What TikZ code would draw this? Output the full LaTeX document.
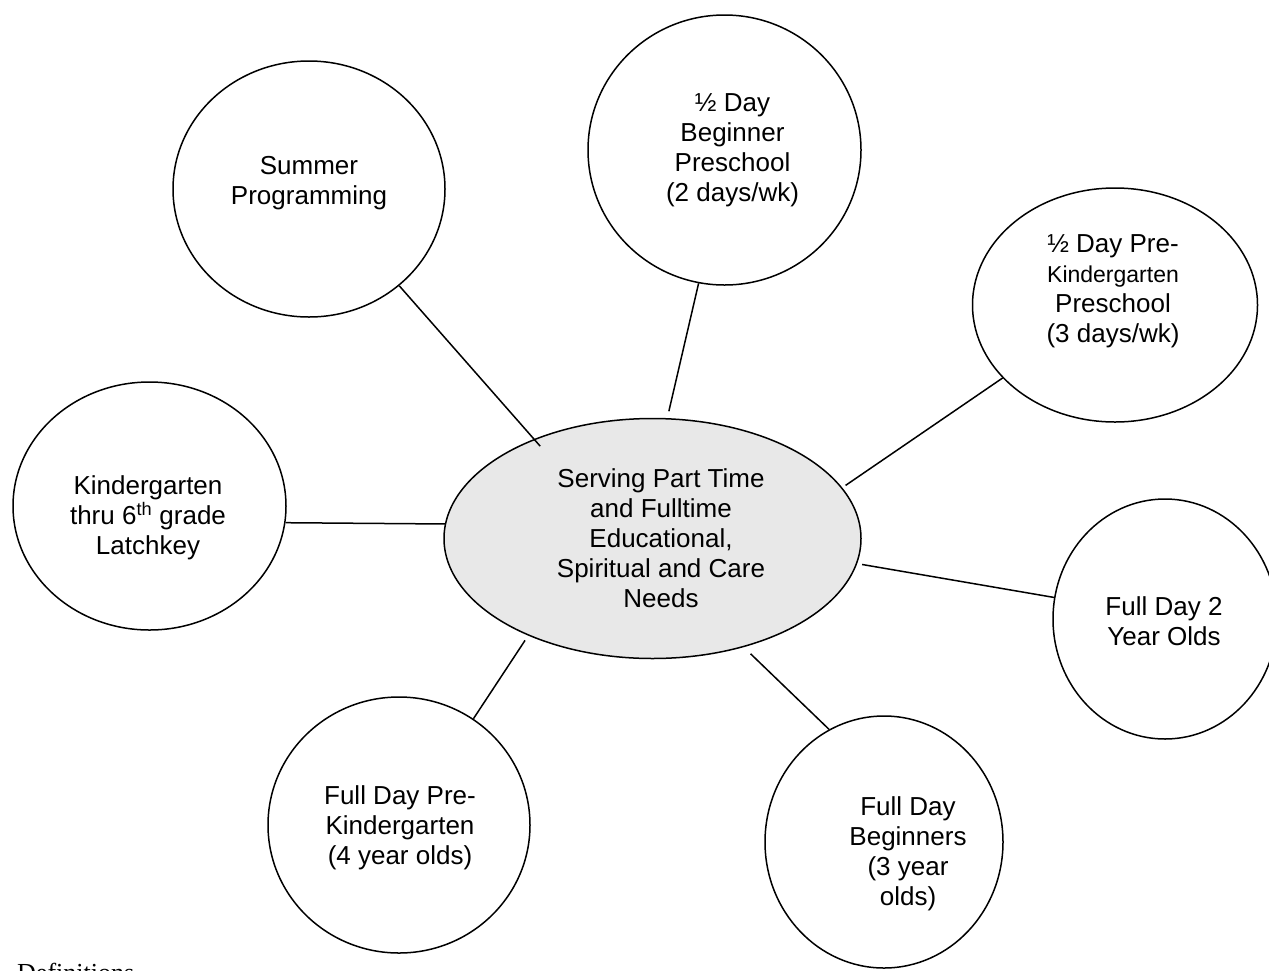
\documentclass[tikz,border=0pt]{standalone}
\usepackage{fontspec}
\setmainfont{Liberation Sans}
\newfontfamily\serifdef{Liberation Serif}
\usetikzlibrary{shapes.geometric}
\definecolor{ctrfill}{RGB}{232,232,232}
\begin{document}
\begin{tikzpicture}[x=1pt,y=-1pt,
  bub/.style={ellipse,draw,line width=1.5pt,inner sep=0pt},
  lbl/.style={align=center,font=\fontsize{26}{30}\selectfont,inner sep=0pt},
  link/.style={line width=1.5pt}]
\useasboundingbox (0,0) rectangle (1269,970);
\clip (0,0) rectangle (1269,970);
% shapes
\node[bub,minimum width=272pt,minimum height=256pt] (sum) at (309,189) {};
\node[bub,minimum width=273pt,minimum height=270pt] (beg) at (724.5,150) {};
\node[bub,minimum width=285pt,minimum height=234pt] (pkh) at (1115,305) {};
\node[bub,minimum width=273pt,minimum height=248pt] (lat) at (149.5,506) {};
\node[bub,fill=ctrfill,minimum width=417pt,minimum height=240pt] (ctr) at (652.5,538.5) {};
\node[bub,minimum width=224pt,minimum height=240pt] (fd2) at (1165,619) {};
\node[bub,minimum width=262pt,minimum height=256pt] (fpk) at (399,825) {};
\node[bub,minimum width=238pt,minimum height=252pt] (fdb) at (884,842) {};
% connectors
\draw[link,shorten >=-9.5pt] (sum.-47) -- (ctr.140);
\draw[link,shorten >=7pt] (beg.-101) -- (ctr.83);
\draw[link,shorten >=4pt] (pkh.-147.5) -- (ctr.15);
\draw[link] (lat.-7) -- (ctr.176);
\draw[link,shorten >=5pt] (fd2.169) -- (ctr.-7);
\draw[link,shorten >=5.7pt] (fpk.55) -- (ctr.-142.5);
\draw[link,shorten >=9.5pt] (fdb.116) -- (ctr.-50);
% texts
\node[lbl] (sumT) at (309,183) {Summer\\Programming};
\node[lbl] (begT) at (732.5,150) {½ Day\\Beginner\\Preschool\\(2 days/wk)};
\node[lbl] (pkhT) at (1113,291.5) {½ Day Pre-\\{\fontsize{23}{29}\selectfont Kindergarten}\\Preschool\\(3 days/wk)};
\node[lbl] (ctrT) at (661,538) {Serving Part Time\\and Fulltime\\Educational,\\Spiritual and Care\\Needs};
\node[lbl] (latT) at (148,518) {Kindergarten\\thru 6\textsuperscript{th} grade\\Latchkey};
\node[lbl] (fd2T) at (1164,621) {Full Day 2\\Year Olds};
\node[lbl] (fpkT) at (400,828) {Full Day Pre-\\Kindergarten\\(4 year olds)};
\node[lbl] (fdbT) at (908,854) {Full Day\\Beginners\\(3 year\\olds)};
\node[anchor=base west,inner sep=0pt,font=\serifdef\fontsize{26}{30}\selectfont] (defT) at (17,981) {Definitions};
\end{tikzpicture}
\end{document}
